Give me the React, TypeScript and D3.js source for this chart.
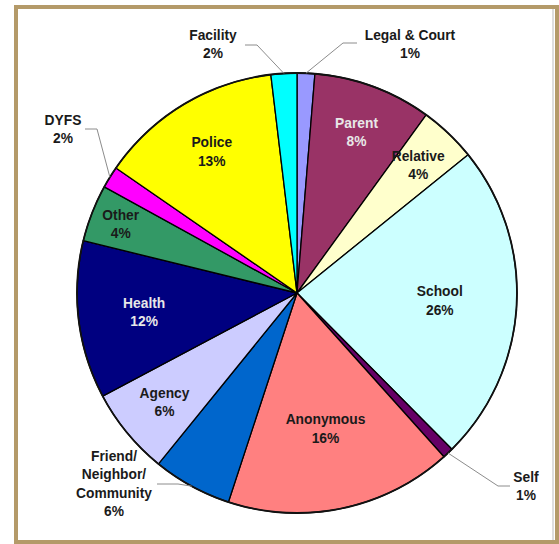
import React from "react";
import * as d3 from "d3";

const categories = [
  "Legal & Court", "Parent", "Relative", "School", "Self", "Anonymous",
  "Friend/Neighbor/Community", "Agency", "Health", "Other", "DYFS", "Police", "Facility",
];
const values = [1.3, 8.7, 4.2, 23.4, 0.8, 16.7, 5.8, 6.4, 11.6, 4.2, 1.6, 13.5, 1.9];
const percentLabels = ["1%", "8%", "4%", "26%", "1%", "16%", "6%", "6%", "12%", "4%", "2%", "13%", "2%"];
const nameLines = [
  ["Legal & Court"], ["Parent"], ["Relative"], ["School"], ["Self"], ["Anonymous"],
  ["Friend/", "Neighbor/", "Community"], ["Agency"], ["Health"], ["Other"], ["DYFS"], ["Police"], ["Facility"],
];

const colors = [
  "#9999ff", "#993366", "#ffffcc", "#ccffff", "#660066", "#ff8080",
  "#0066cc", "#ccccff", "#000080", "#339966", "#ff00ff", "#ffff00", "#00ffff",
];

// layout: inside labels -> radius fraction; outside labels -> text pos and leader elbow
const insideFrac: Record<number, number> = { 1: 0.78, 2: 0.8, 3: 0.65, 5: 0.63, 7: 0.78, 8: 0.7, 9: 0.86, 11: 0.75 };
const outside: Record<number, { x: number; y: number; elbow: [number, number]; end: [number, number] }> = {
  0: { x: 410, y: 35, elbow: [343, 43], end: [357, 43] },
  12: { x: 213, y: 35, elbow: [257, 45], end: [245, 45] },
  10: { x: 63, y: 120, elbow: [97, 129], end: [85, 129] },
  4: { x: 526, y: 477, elbow: [498, 486], end: [510, 486] },
  6: { x: 114, y: 456, elbow: [178, 484], end: [157, 484] },
};

const W = 559, H = 544;
const cx = 297, cy = 293, R = 220;
const LH = 18.5;

export default function App() {
  const pie = d3.pie<number>().sort(null).value((d) => d);
  const arcs = pie(values);
  const arcGen = d3.arc<d3.PieArcDatum<number>>().innerRadius(0).outerRadius(R);
  const font = { fontFamily: "'Liberation Sans', Arial, sans-serif", fontWeight: 700, fontSize: 13.8, fill: "#1a1a1a" } as const;

  return (
    <svg width={W} height={H} style={{ position: "absolute", left: 0, top: 0 }}>
      <rect x={0} y={0} width={W} height={H} fill="#ffffff" />
      <rect x={16} y={7} width={541} height={535} fill="#ffffff" stroke="#b49a69" strokeWidth={4} />
      <line x1={553} y1={9} x2={553} y2={540} stroke="#bdbdbd" strokeWidth={1} />
      <g transform={`translate(${cx},${cy})`}>
        {arcs.map((a, i) => (
          <path key={i} d={arcGen(a) || ""} fill={colors[i]} stroke="#000" strokeWidth={1.3} strokeLinejoin="round" />
        ))}
        <circle r={R} fill="none" stroke="#111" strokeWidth={1.8} />
      </g>
      {arcs.map((a, i) => {
        const mid = (a.startAngle + a.endAngle) / 2;
        const lines = [...nameLines[i], percentLabels[i]];
        if (outside[i]) {
          const o = outside[i];
          const sx = cx + R * Math.sin(mid), sy = cy - R * Math.cos(mid);
          return (
            <g key={i}>
              <polyline points={`${sx},${sy} ${o.elbow[0]},${o.elbow[1]} ${o.end[0]},${o.end[1]}`} fill="none" stroke="#8c8c8c" strokeWidth={1} />
              {lines.map((t, j) => (
                <text key={j} x={o.x} y={o.y + j * LH} dy="0.35em" textAnchor="middle" {...font}>{t}</text>
              ))}
            </g>
          );
        }
        const f = insideFrac[i];
        const r = f * R;
        const x = cx + r * Math.sin(mid), y = cy - r * Math.cos(mid);
        const y0 = y - ((lines.length - 1) * LH) / 2;
        const light = i === 8 || i === 1;
        return (
          <g key={i}>
            {lines.map((t, j) => (
              <text key={j} x={x} y={y0 + j * LH} dy="0.35em" textAnchor="middle" {...font} fill={light ? "#e8e8e8" : "#1a1a1a"}>{t}</text>
            ))}
          </g>
        );
      })}
    </svg>
  );
}
